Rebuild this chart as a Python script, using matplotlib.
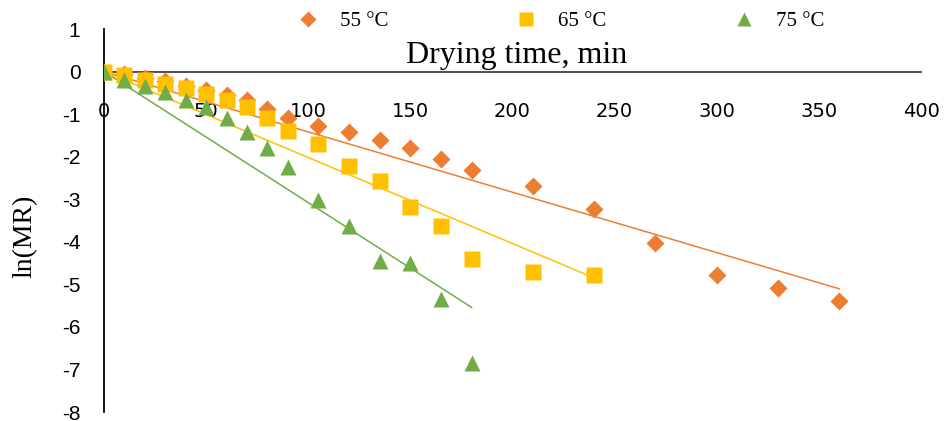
import numpy as np
import matplotlib
matplotlib.use('Agg')
import matplotlib.pyplot as plt

# Время сушки, мин и ln(MR) для трёх температур
t55 = [0, 10, 20, 30, 40, 50, 60, 70, 80, 90, 105, 120, 135, 150, 165, 180, 210, 240, 270, 300, 330, 360]
y55 = [0, -0.06, -0.14, -0.23, -0.33, -0.44, -0.56, -0.68, -0.87, -1.08, -1.27, -1.43, -1.62, -1.79,
       -2.05, -2.32, -2.70, -3.24, -4.03, -4.77, -5.09, -5.38]

t65 = [0, 10, 20, 30, 40, 50, 60, 70, 80, 90, 105, 120, 135, 150, 165, 180, 210, 240]
y65 = [0, -0.09, -0.21, -0.30, -0.39, -0.52, -0.67, -0.84, -1.09, -1.39, -1.71, -2.21, -2.58, -3.18,
       -3.64, -4.41, -4.72, -4.79]

t75 = [0, 10, 20, 30, 40, 50, 60, 70, 80, 90, 105, 120, 135, 150, 165, 180]
y75 = [0, -0.19, -0.35, -0.49, -0.68, -0.84, -1.10, -1.41, -1.80, -2.25, -3.03, -3.64, -4.44, -4.51,
       -5.35, -6.85]

labels = ['55 °C', '65 °C', '75 °C']
colors = ['#ED7D31', '#FFC000', '#70AD47']
markers = ['D', 's', '^']
msizes = [9.5, 12, 12]

xticks = [0, 50, 100, 150, 200, 250, 300, 350, 400]
yticks = [1, 0, -1, -2, -3, -4, -5, -6, -7, -8]

serif = 'Liberation Serif'
sans = 'Liberation Sans'

fig = plt.figure(figsize=(9.48, 4.21), dpi=100)
ax = fig.add_axes([104 / 948, 9 / 421, 817 / 948, 383 / 421])

series = [(t55, y55), (t65, y65), (t75, y75)]
handles = []
for (t, y), lab, c, m, ms in zip(series, labels, colors, markers, msizes):
    t = np.array(t, float)
    y = np.array(y, float)
    # линейный тренд через начало координат
    b = np.sum(t * y) / np.sum(t * t)
    tt = np.array([0, t.max()])
    ax.plot(tt, b * tt, color=c, lw=1.1, zorder=2)
    h, = ax.plot(t, y, ls='none', marker=m, ms=ms, color=c, mec='none', label=lab, zorder=3)
    handles.append(h)

# ось X проходит через ноль (сначала, иначе метки сбрасываются)
ax.spines['top'].set_visible(False)
ax.spines['right'].set_visible(False)
ax.spines['bottom'].set_position(('data', 0))
ax.spines['bottom'].set_color('#404040')
ax.spines['bottom'].set_linewidth(1.3)
ax.spines['left'].set_color('black')
ax.spines['left'].set_linewidth(1.3)

ax.set_xlim(0, 400)
ax.set_ylim(-8, 1)
ax.set_xticks(xticks)
ax.set_yticks(yticks)
ax.tick_params(axis='x', length=0, pad=22)
ax.tick_params(axis='y', length=0, pad=17)
ax.set_xticklabels([str(v) for v in xticks], fontfamily='DejaVu Sans', fontsize=14)
ax.set_yticklabels([str(v) for v in yticks], fontfamily=sans, fontsize=15)

ax.set_xlabel('Drying time, min', fontfamily=serif, fontsize=23, va='center')
ax.xaxis.set_label_coords((517 - 104) / 817, (412 - 55) / 383)
ax.set_ylabel('ln(MR)', fontfamily=serif, fontsize=20, va='center')
ax.yaxis.set_label_coords((25 - 104) / 817, (412 - 236) / 383)

fig.legend(handles=handles, loc='center', bbox_to_anchor=(556 / 948, 1 - 21 / 421), ncol=3,
           frameon=False, prop={'family': serif, 'size': 15}, markerscale=0.85,
           handletextpad=0.55, columnspacing=5.6)

fig.savefig('out.png', dpi=100)
